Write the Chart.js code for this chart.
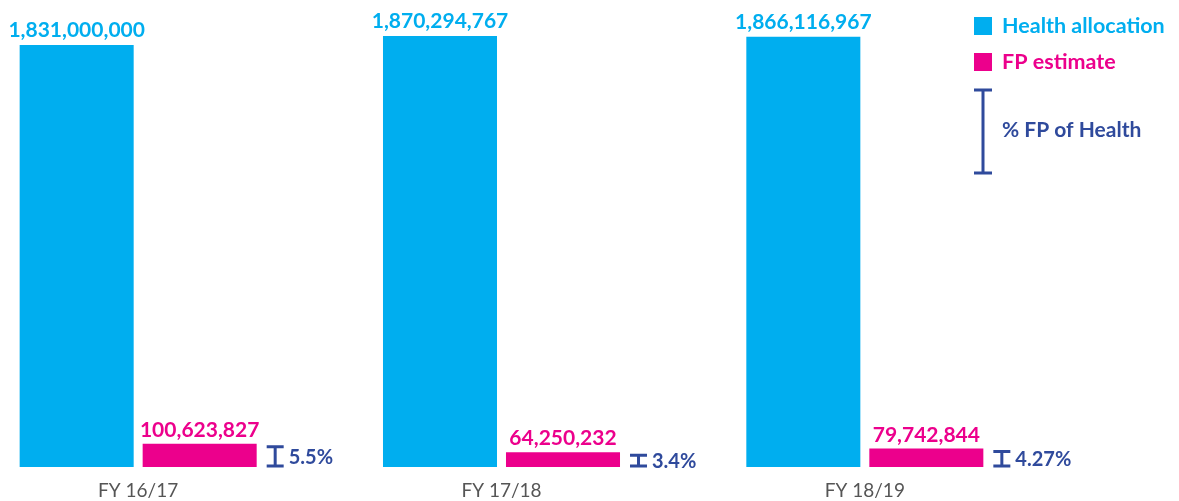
<!DOCTYPE html>
<html>
<head>
<meta charset="utf-8">
<script src="https://cdn.jsdelivr.net/npm/chart.js@4"></script>
<style>
  html, body { margin: 0; padding: 0; background: #fff; }
  #wrap { width: 1179px; height: 501px; }
</style>
</head>
<body>
<div id="wrap"><canvas id="fpChart" width="1179" height="501"></canvas></div>
<script>
'use strict';

// Data
var categories = ['FY 16/17', 'FY 17/18', 'FY 18/19'];
var healthAllocation = [1831000000, 1870294767, 1866116967];
var fpEstimate = [100623827, 64250232, 79742844];
var pctFpOfHealth = [5.5, 3.4, 4.27];
var pctLabels = ['5.5%', '3.4%', '4.27%'];
var legendLabels = ['Health allocation', 'FP estimate', '% FP of Health'];

var BLUE = '#00aeef';
var PINK = '#ec008c';
var NAVY = '#2f4a9c';
var GREY = '#555555';
var FONT = 'Lato, "Open Sans", sans-serif';

function fmt(n) {
  return n.toLocaleString('en-US');
}

function drawBeam(ctx, x, top, bottom, w) {
  ctx.beginPath();
  ctx.moveTo(x + w / 2, top);
  ctx.lineTo(x + w / 2, bottom);
  ctx.moveTo(x, top);
  ctx.lineTo(x + w, top);
  ctx.moveTo(x, bottom);
  ctx.lineTo(x + w, bottom);
  ctx.stroke();
}

// Value labels, % markers, category labels and legend
var annotate = {
  id: 'annotate',
  afterDatasetsDraw: function(chart) {
    var ctx = chart.ctx;
    var health = chart.getDatasetMeta(0).data;
    var fp = chart.getDatasetMeta(1).data;
    var base = chart.chartArea.bottom;
    ctx.save();

    // labels above bars
    ctx.textAlign = 'center';
    ctx.textBaseline = 'alphabetic';
    ctx.font = 'bold 21px ' + FONT;
    health.forEach(function(bar, i) {
      ctx.fillStyle = BLUE;
      ctx.fillText(fmt(healthAllocation[i]), bar.x, bar.y - 8);
    });
    fp.forEach(function(bar, i) {
      ctx.fillStyle = PINK;
      ctx.fillText(fmt(fpEstimate[i]), bar.x, bar.y - 7);
    });

    // % FP of Health markers
    ctx.strokeStyle = NAVY;
    ctx.lineWidth = 3;
    ctx.fillStyle = NAVY;
    ctx.font = 'bold 20px ' + FONT;
    ctx.textAlign = 'left';
    ctx.textBaseline = 'middle';
    fp.forEach(function(bar, i) {
      var right = bar.x + bar.width / 2;
      var top = bar.y + 3;
      var bottom = base - 1;
      drawBeam(ctx, right + 10, top, bottom, 17);
      ctx.fillText(pctLabels[i], right + 32, (top + bottom) / 2 + 1);
    });

    // category labels under the two bars
    ctx.fillStyle = GREY;
    ctx.font = '19px ' + FONT;
    ctx.textAlign = 'center';
    ctx.textBaseline = 'alphabetic';
    categories.forEach(function(c, i) {
      ctx.fillText(c, (health[i].x + fp[i].x) / 2, 497);
    });

    // legend
    ctx.textAlign = 'left';
    ctx.font = 'bold 21.5px ' + FONT;
    ctx.fillStyle = BLUE;
    ctx.fillRect(974, 17, 18, 18);
    ctx.fillText(legendLabels[0], 1002, 33);
    ctx.fillStyle = PINK;
    ctx.fillRect(974, 53, 18, 18);
    ctx.fillText(legendLabels[1], 1002, 69);
    ctx.strokeStyle = NAVY;
    ctx.lineWidth = 3;
    drawBeam(ctx, 974, 90, 173, 18);
    ctx.fillStyle = NAVY;
    ctx.font = 'bold 21px ' + FONT;
    ctx.fillText(legendLabels[2], 1002, 137);

    ctx.restore();
  }
};

var ctx = document.getElementById('fpChart');
new Chart(ctx, {
  type: 'bar',
  data: {
    labels: categories,
    datasets: [{
      label: legendLabels[0],
      data: healthAllocation,
      backgroundColor: BLUE
    }, {
      label: legendLabels[1],
      data: fpEstimate,
      backgroundColor: PINK
    }, {
      // keeps a slot free for the % marker
      label: legendLabels[2],
      data: pctFpOfHealth,
      yAxisID: 'p',
      backgroundColor: 'rgba(0,0,0,0)'
    }]
  },
  options: {
    responsive: false,
    animation: false,
    categoryPercentage: 1.0156,
    barPercentage: 0.927,
    layout: { padding: { left: 18, right: 71, top: 0, bottom: 34 } },
    plugins: { legend: { display: false }, tooltip: { enabled: false } },
    scales: {
      x: { display: false },
      y: { display: false, min: 0, max: 2026000000 },
      p: { display: false, min: 0, max: 100000 }
    }
  },
  plugins: [annotate]
});
</script>
</body>
</html>
